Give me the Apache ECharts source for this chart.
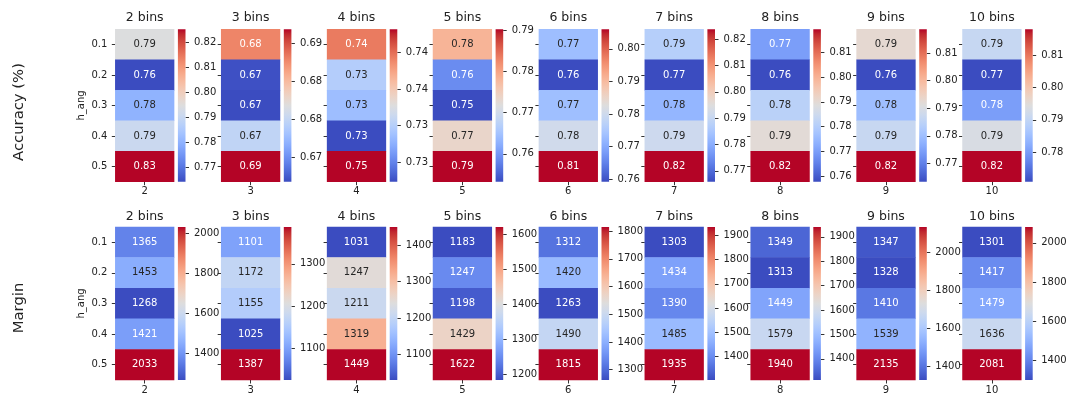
<!DOCTYPE html>
<html>
<head>
<meta charset="utf-8">
<script src="https://cdn.jsdelivr.net/npm/echarts@6/dist/echarts.min.js"></script>
<style>
  html, body { margin: 0; padding: 0; background: #ffffff; }
  #chart { width: 1070px; height: 402px; }
</style>
</head>
<body>
<div id="chart"></div>
<script>
// Number of bins per column panel
const binCounts = [2, 3, 4, 5, 6, 7, 8, 9, 10];
// h_ang values (rows of every heatmap)
const hAngLabels = ['0.1', '0.2', '0.3', '0.4', '0.5'];

// Accuracy per h_ang, one list per bin count
const accuracy = [
  [0.7945, 0.7642, 0.7800, 0.7905, 0.8252],
  [0.6828, 0.6670, 0.6668, 0.6748, 0.6868],
  [0.7444, 0.7349, 0.7336, 0.7274, 0.7481],
  [0.7784, 0.7588, 0.7532, 0.7736, 0.7903],
  [0.7732, 0.7592, 0.7733, 0.7803, 0.8060],
  [0.7873, 0.7659, 0.7815, 0.7913, 0.8237],
  [0.7700, 0.7577, 0.7811, 0.7897, 0.8193],
  [0.7927, 0.7633, 0.7799, 0.7866, 0.8187],
  [0.7906, 0.7709, 0.7803, 0.7935, 0.8179]
];

// Margin per h_ang, one list per bin count
const margin = [
  [1365, 1453, 1268, 1421, 2033],
  [1101, 1172, 1155, 1025, 1387],
  [1031, 1247, 1211, 1319, 1449],
  [1183, 1247, 1198, 1429, 1622],
  [1312, 1420, 1263, 1490, 1815],
  [1303, 1434, 1390, 1485, 1935],
  [1349, 1313, 1449, 1579, 1940],
  [1347, 1328, 1410, 1539, 2135],
  [1301, 1417, 1479, 1636, 2081]
];

// Colorbar tick values
const accuracyTicks = [
  [0.77, 0.78, 0.79, 0.80, 0.81, 0.82],
  [0.670, 0.675, 0.680, 0.685],
  [0.730, 0.735, 0.740, 0.745],
  [0.76, 0.77, 0.78, 0.79],
  [0.76, 0.77, 0.78, 0.79, 0.80],
  [0.77, 0.78, 0.79, 0.80, 0.81, 0.82],
  [0.76, 0.77, 0.78, 0.79, 0.80, 0.81],
  [0.77, 0.78, 0.79, 0.80, 0.81],
  [0.78, 0.79, 0.80, 0.81]
];
const marginTicks = [
  [1400, 1600, 1800, 2000],
  [1100, 1200, 1300],
  [1100, 1200, 1300, 1400],
  [1200, 1300, 1400, 1500, 1600],
  [1300, 1400, 1500, 1600, 1700, 1800],
  [1400, 1500, 1600, 1700, 1800, 1900],
  [1400, 1500, 1600, 1700, 1800, 1900],
  [1400, 1600, 1800, 2000],
  [1400, 1600, 1800, 2000]
];

// Cool-warm diverging colour map, evenly spaced control points
const COOLWARM = [
  [59,76,192],[68,90,204],[77,104,215],[87,117,225],[98,130,234],[108,142,241],
  [119,154,247],[130,165,251],[141,176,254],[152,185,255],[163,194,255],[174,201,253],
  [184,208,249],[194,213,244],[204,217,238],[213,219,230],[221,221,221],[229,216,209],
  [236,211,197],[241,204,185],[245,196,173],[247,187,160],[247,177,148],[247,166,135],
  [244,154,123],[241,141,111],[236,127,99],[229,112,88],[222,96,77],[213,80,66],
  [203,62,56],[192,40,47],[180,4,38]
];
const toHex = c => '#' + c.map(v => Math.round(v).toString(16).padStart(2, '0')).join('');
const COOLWARM_HEX = COOLWARM.map(toHex);

function coolwarm(t) {
  t = Math.max(0, Math.min(1, t));
  const p = t * (COOLWARM.length - 1);
  const i = Math.min(Math.floor(p), COOLWARM.length - 2);
  const f = p - i;
  return COOLWARM[i].map((v, k) => v + (COOLWARM[i + 1][k] - v) * f);
}

// Dark annotation on light cells, white on dark cells
function annotColor(rgb) {
  const lin = rgb.map(v => {
    const c = v / 255;
    return c <= 0.03928 ? c / 12.92 : Math.pow((c + 0.055) / 1.055, 2.4);
  });
  const lum = 0.2126 * lin[0] + 0.7152 * lin[1] + 0.0722 * lin[2];
  return lum > 0.408 ? '#262626' : '#ffffff';
}

const FONT = 'DejaVu Sans';
const TXT = '#222222';
const X0 = 115.3, PITCH = 105.9, HEAT_W = 58.8, CB_OFF = 62.6, CB_W = 7.6;

const rows = [
  { name: 'Accuracy (%)', nameY: 112, titleY: 18, top: 29.3, height: 152.4,
    values: accuracy, ticks: accuracyTicks, fmt: v => v.toFixed(2) },
  { name: 'Margin', nameY: 308, titleY: 216.5, top: 227, height: 153,
    values: margin, ticks: marginTicks, fmt: v => String(Math.round(v)) }
];

const grid = [], xAxis = [], yAxis = [], series = [], visualMap = [], graphic = [];

const gradientStops = COOLWARM_HEX.map((c, i) => ({ offset: i / (COOLWARM_HEX.length - 1), color: c }));

rows.forEach((row, r) => {
  graphic.push({
    type: 'text', x: 19, y: row.nameY, rotation: Math.PI / 2,
    style: { text: row.name, fontSize: 14.8, fontFamily: FONT, fill: TXT,
             textAlign: 'center', textVerticalAlign: 'middle' }
  });

  binCounts.forEach((bins, i) => {
    const vals = row.values[i];
    const vmin = Math.min(...vals), vmax = Math.max(...vals);
    const left = X0 + i * PITCH;

    graphic.push({
      type: 'text', x: left + HEAT_W / 2, y: row.titleY,
      style: { text: bins + ' bins', fontSize: 12.5, fontFamily: FONT, fill: TXT,
               textAlign: 'center', textVerticalAlign: 'middle' }
    });

    // heatmap panel
    const g = grid.length;
    grid.push({ left: left, top: row.top, width: HEAT_W, height: row.height });
    xAxis.push({
      gridIndex: g, type: 'category', data: [String(bins)],
      axisLine: { show: false }, splitLine: { show: false },
      axisTick: { show: true, alignWithLabel: true, length: 3.5, lineStyle: { color: '#333', width: 1 } },
      axisLabel: { fontSize: 10, fontFamily: FONT, color: TXT, margin: 5 }
    });
    yAxis.push({
      gridIndex: g, type: 'category', data: hAngLabels, inverse: true,
      axisLine: { show: false }, splitLine: { show: false },
      axisTick: { show: true, alignWithLabel: true, length: 3.5, lineStyle: { color: '#333', width: 1 } },
      axisLabel: { show: i === 0, fontSize: 10, fontFamily: FONT, color: TXT, margin: 8 },
      name: i === 0 ? 'h_ang' : '', nameLocation: 'middle', nameRotate: 90, nameGap: 29,
      nameTextStyle: { fontSize: 10, fontFamily: FONT, color: TXT }
    });
    const heatIndex = series.length;
    series.push({
      type: 'heatmap', xAxisIndex: g, yAxisIndex: g,
      data: vals.map((v, j) => ({
        value: [0, j, v],
        label: { color: annotColor(coolwarm((v - vmin) / (vmax - vmin))) }
      })),
      label: { show: true, fontSize: 10, fontFamily: FONT, formatter: p => row.fmt(p.value[2]) },
      itemStyle: { borderWidth: 0 },
      emphasis: { disabled: true },
      silent: true
    });
    visualMap.push({
      type: 'continuous', show: false, seriesIndex: heatIndex, dimension: 2,
      min: vmin, max: vmax, inRange: { color: COOLWARM_HEX }
    });

    // colorbar
    const c = grid.length;
    grid.push({ left: left + CB_OFF, top: row.top, width: CB_W, height: row.height });
    xAxis.push({ gridIndex: c, type: 'category', data: [''], show: false });
    yAxis.push({
      gridIndex: c, type: 'value', position: 'right', min: vmin, max: vmax,
      axisLine: { show: false }, splitLine: { show: false },
      axisTick: { show: true, length: 3.5, customValues: row.ticks[i], lineStyle: { color: '#333', width: 1 } },
      axisLabel: { show: true, customValues: row.ticks[i], formatter: v => row.fmt(v),
                   fontSize: 10, fontFamily: FONT, color: TXT, margin: 8.5 }
    });
    series.push({
      type: 'bar', xAxisIndex: c, yAxisIndex: c, stack: 'cb' + c, barWidth: '100%',
      data: [vmin], itemStyle: { color: 'rgba(0,0,0,0)' }, silent: true
    });
    series.push({
      type: 'bar', xAxisIndex: c, yAxisIndex: c, stack: 'cb' + c, barWidth: '100%',
      data: [vmax - vmin], silent: true,
      itemStyle: { color: new echarts.graphic.LinearGradient(0, 1, 0, 0, gradientStops) }
    });
  });
});

const chart = echarts.init(document.getElementById('chart'), null, { renderer: 'canvas' });
chart.setOption({
  animation: false,
  backgroundColor: '#ffffff',
  textStyle: { fontFamily: FONT },
  grid, xAxis, yAxis, series, visualMap, graphic
});
</script>
</body>
</html>
